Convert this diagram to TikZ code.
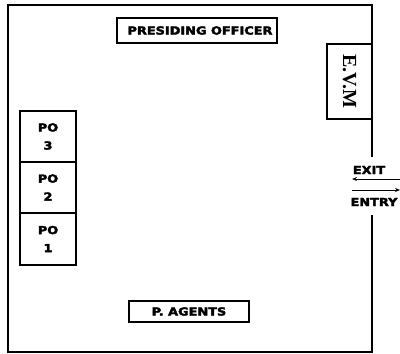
\documentclass[tikz,border=0pt]{standalone}
\usepackage{fontspec}
\usepackage{graphicx}
\setmainfont{DejaVu Sans}[BoldFeatures={FakeBold=3}]
\newfontfamily\evmfont{Liberation Serif}
\newcommand\widetxt[1]{\scalebox{1.17}[1]{#1}}
\usetikzlibrary{arrows.meta}
\begin{document}
\begin{tikzpicture}[x=1pt,y=-1pt,
  lbl/.style={font=\fontsize{11}{18}\selectfont\bfseries, inner sep=0pt},
  box/.style={draw, line width=1.5pt, inner sep=0pt},
  frame/.style={line width=2pt},
  arr/.style={line width=0.9pt, -{Stealth[length=5pt,width=4pt]}}]
\useasboundingbox (0,0) rectangle (400,354);
% outer frame with a door gap on the right
\coordinate (gt) at (372,157);
\coordinate (gb) at (372,215);
\draw[frame] (gt) -- (372,5) -- (8,5) -- (8,352) -- (372,352) -- (gb);
% presiding officer
\node[box, minimum width=160pt, minimum height=25pt] (pres) at (197,30.5) {};
\node[lbl] (prest) at (200,30.5) {\widetxt{PRESIDING OFFICER}};
% EVM
\node[box, minimum width=45pt, minimum height=75pt] (evm) at (349.5,81.5) {};
\node[rotate=-90, font=\evmfont\fontsize{20}{20}\selectfont\bfseries, inner sep=0pt] (evmt) at (evm.center) {E.V.M};
% PO boxes
\node[box, lbl, align=center, minimum width=56pt, minimum height=51pt] (po3) at (48,136.5) {\widetxt{PO}\\\widetxt{3}};
\node[box, lbl, align=center, minimum width=56pt, minimum height=51pt] (po2) at (48,187.5) {\widetxt{PO}\\\widetxt{2}};
\node[box, lbl, align=center, minimum width=56pt, minimum height=52pt] (po1) at (48,239) {\widetxt{PO}\\\widetxt{1}};
% P. agents
\node[box, lbl, minimum width=120pt, minimum height=21pt] (pa) at (189,311.5) {\widetxt{P. AGENTS}};
% exit / entry
\node[lbl] (exit) at (369,170) {\widetxt{EXIT}};
\node[lbl] (entry) at (374,202) {\widetxt{ENTRY}};
\coordinate (exR) at (400,179);
\coordinate (exL) at (352,179);
\coordinate (enL) at (352,190);
\coordinate (enR) at (400,190);
\draw[arr] (exR) -- (exL);
\draw[arr] (enL) -- (enR);
\end{tikzpicture}
\end{document}
